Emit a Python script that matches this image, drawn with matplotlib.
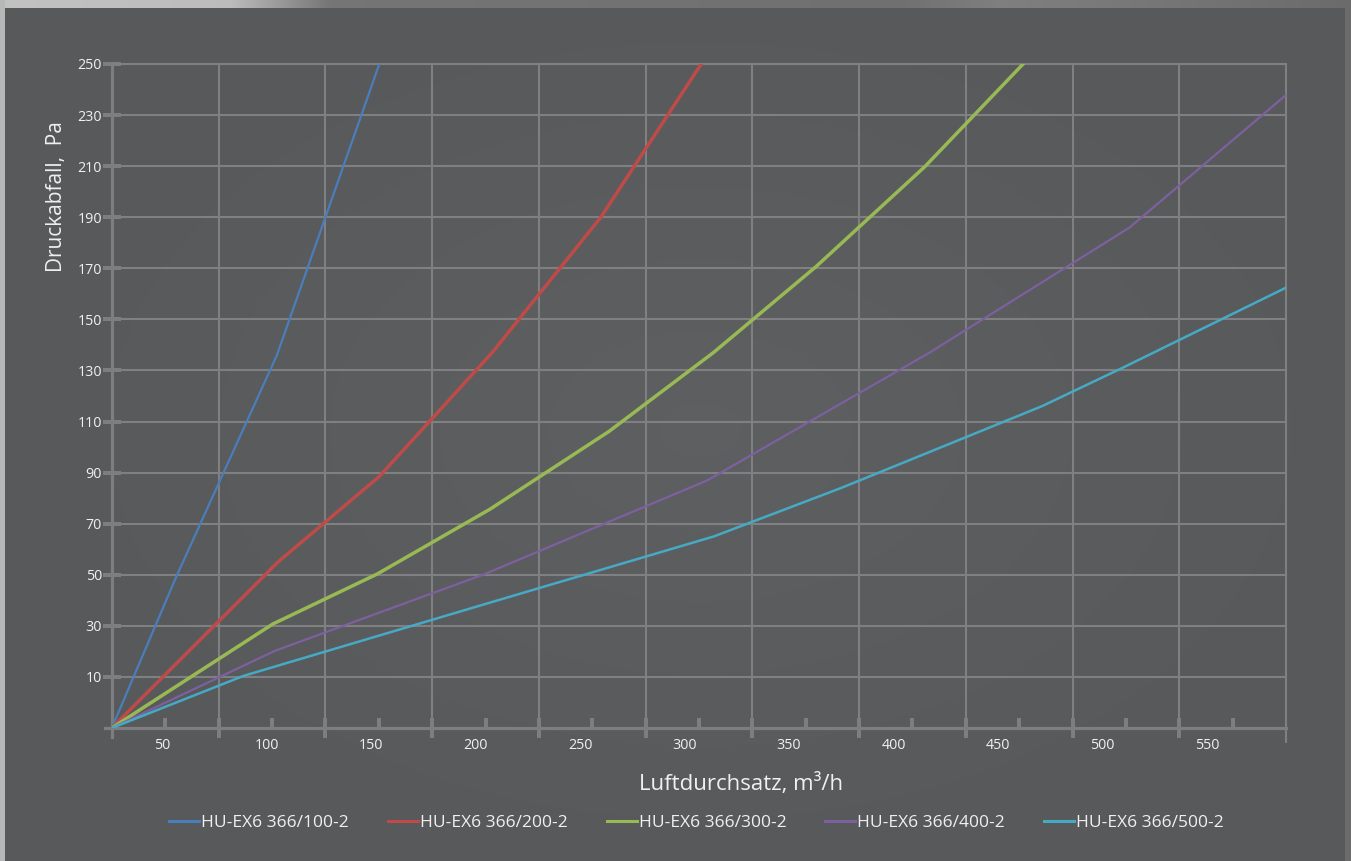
import numpy as np
import matplotlib
matplotlib.use("Agg")
import matplotlib.pyplot as plt
from matplotlib.lines import Line2D

plt.rcParams['font.family'] = ['Open Sans', 'DejaVu Sans']

# ---- data: air flow (m3/h) vs. pressure drop (Pa) ----
FLOW_100 = [26, 57, 105, 154]
DP_100 = [-10, 49.5, 136, 250]

FLOW_200 = [26, 105.5, 154, 208, 260, 308]
DP_200 = [-10, 55, 88.5, 137, 190, 250]

FLOW_300 = [26, 103, 153, 207, 264, 314, 363, 415, 462]
DP_300 = [-10, 30.7, 50.3, 75.7, 106.2, 137.1, 170.7, 209.8, 250]

FLOW_400 = [26, 104, 204.5, 311, 417.5, 513, 588]
DP_400 = [-10, 20.2, 50.3, 87, 137.1, 186, 238]

FLOW_500 = [26, 89, 204.5, 314, 375, 471, 509.5, 588]
DP_500 = [-10, 10.4, 38.5, 65, 84, 116, 131, 162.5]

SERIES = ["HU-EX6 366/100-2", "HU-EX6 366/200-2", "HU-EX6 366/300-2",
          "HU-EX6 366/400-2", "HU-EX6 366/500-2"]
X_TICK_LABELS = [50, 100, 150, 200, 250, 300, 350, 400, 450, 500, 550]
Y_TICK_LABELS = [10, 30, 50, 70, 90, 110, 130, 150, 170, 190, 210, 230, 250]

COLORS = ["#4a7ebb", "#be4b48", "#98b954", "#7d60a0", "#46aac5"]
WIDTHS = [1.6, 2.5, 2.5, 1.6, 1.8]

GRID = "#808082"
AXIS = "#7e7e80"
TXT = "#f0f0f0"

W, H = 1351, 861
fig = plt.figure(figsize=(W / 100, H / 100), dpi=100)

# ---- backdrop panel ----
bg = fig.add_axes([0, 0, 1, 1], zorder=-10)
bg.axis("off")
yy, xx = np.mgrid[0:H, 0:W]
base = np.array([88, 89, 91]) / 255.0
r = np.hypot((xx - 700) / 700.0, (yy - 430) / 460.0)
img = base[None, None, :] + (0.025 * np.clip(1 - r, 0, 1))[..., None]
top = np.interp(np.arange(W), [0, 230, 330, 900, 1000, 1351],
                [0.76, 0.74, 0.46, 0.44, 0.5, 0.42])
img[:8, :, :] = top[None, :, None]
img[:, :5, :] = 0.72
img[:, 1345:, :] = 0.42
bg.imshow(np.clip(img, 0, 1), aspect="auto", extent=[0, 1, 0, 1],
          interpolation="bilinear")
bg.set_xlim(0, 1)
bg.set_ylim(0, 1)

# ---- main axes ----
XMIN, XMAX = 26.1, 587.8
YMIN, YMAX = -10, 250
ax = fig.add_axes([112 / W, 1 - 728 / H, (1286 - 112) / W, (728 - 64) / H])
ax.patch.set_alpha(0)
ax.set_xlim(XMIN, XMAX)
ax.set_ylim(YMIN, YMAX)

grid_x = np.linspace(XMIN, XMAX, 12)
step = grid_x[1] - grid_x[0]
ax.set_xticks(grid_x[1:-1])
ax.set_xticks(grid_x[:-1] + step / 2, minor=True)
ax.set_xticklabels([])
ax.set_yticks(Y_TICK_LABELS)
ax.set_yticklabels([str(v) for v in Y_TICK_LABELS])

ax.grid(True, which="major", color=GRID, lw=1.5, zorder=0)
ax.tick_params(axis="x", which="major", direction="inout", length=14.4,
               width=2.9, color=AXIS)
ax.tick_params(axis="x", which="minor", direction="in", length=7.2,
               width=2.9, color=AXIS)
ax.tick_params(axis="y", which="major", direction="inout", length=12.5,
               width=2.9, color=AXIS, labelsize=10.3, labelcolor=TXT, pad=1)

for side in ("left", "bottom"):
    ax.spines[side].set_color(AXIS)
    ax.spines[side].set_linewidth(2.3)
ax.spines["left"].set_bounds(-13.5, YMAX)
ax.spines["bottom"].set_bounds(22.7, XMAX)
ax.spines["right"].set_color(GRID)
ax.spines["right"].set_linewidth(1.5)
ax.spines["right"].set_bounds(-15.5, YMAX)
ax.spines["top"].set_color(GRID)
ax.spines["top"].set_linewidth(1.5)

# x tick labels sit on their own scale positions
sec = ax.secondary_xaxis("bottom")
sec.set_xticks(X_TICK_LABELS)
sec.set_xticklabels([str(v) for v in X_TICK_LABELS])
sec.tick_params(length=0, pad=7, labelsize=10.3, labelcolor=TXT)
sec.spines["bottom"].set_visible(False)

# ---- curves ----
data = [(FLOW_100, DP_100), (FLOW_200, DP_200), (FLOW_300, DP_300),
        (FLOW_400, DP_400), (FLOW_500, DP_500)]
for (fx, dp), c, lw in zip(data, COLORS, WIDTHS):
    ax.plot(fx, dp, color=c, lw=lw, zorder=3, solid_joinstyle="round")

# ---- axis titles ----
ax.set_ylabel("Druckabfall,  Pa", fontsize=15, color=TXT)
ax.yaxis.set_label_coords(-0.038, 0.800)
ax.set_xlabel("Luftdurchsatz, m³/h", fontsize=16, color=TXT)
ax.xaxis.set_label_coords(0.536, -0.068)

# ---- legend ----
handles = [Line2D([], [], color=c, lw=2.2) for c in COLORS]
fig.legend(handles, SERIES, ncol=5, loc="center",
           bbox_to_anchor=(696.5 / W, 1 - 823 / H), frameon=False,
           fontsize=12.5, labelcolor=TXT, handlelength=1.72,
           handletextpad=0.12, columnspacing=2.24)

fig.savefig("out.png", dpi=100)
